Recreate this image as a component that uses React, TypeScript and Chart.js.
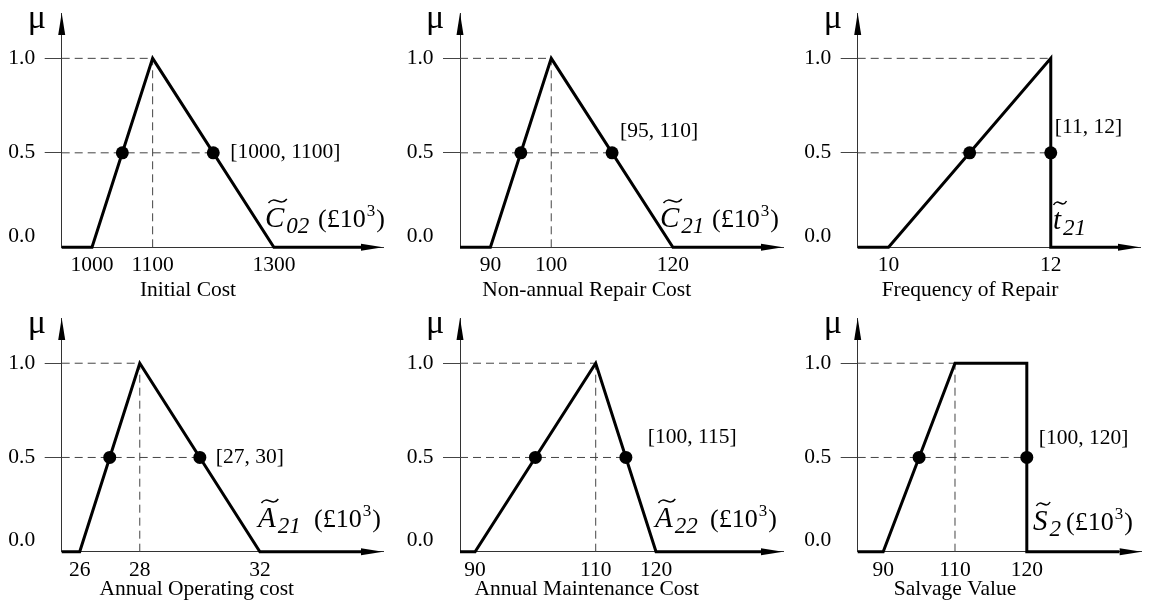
import React, { useEffect, useRef } from 'react';
import { Chart, registerables, LinearScale } from 'chart.js';

Chart.register(...registerables);

// Piecewise-linear axis: listed knot values are equally spaced on screen
class KnotScale extends LinearScale {
  static id = 'knot';
  static defaults = {};
  _u(v: number) {
    const k: number[] = (this.options as any).knots || [this.min, this.max];
    const n = k.length;
    if (v <= k[0]) return (v - k[0]) / (k[1] - k[0]);
    for (let i = 0; i < n - 1; i++) {
      if (v <= k[i + 1]) return i + (v - k[i]) / (k[i + 1] - k[i]);
    }
    return n - 1 + (v - k[n - 1]) / (k[n - 1] - k[n - 2]);
  }
  getPixelForValue(v: number) {
    const a = this._u(this.min);
    const b = this._u(this.max);
    return this.left + ((this._u(v) - a) / (b - a)) * this.width;
  }
  getValueForPixel(p: number) {
    let lo = this.min, hi = this.max;
    for (let i = 0; i < 40; i++) {
      const mid = (lo + hi) / 2;
      if (this.getPixelForValue(mid) < p) lo = mid; else hi = mid;
    }
    return (lo + hi) / 2;
  }
}
Chart.register(KnotScale as any);

// ---------- data ----------
const muTicks = [0, 0.5, 1.0];
const muMax = 1.24;
const cutLevel = 0.5;

// Initial Cost  C~02
const initialCostX = [950, 1000, 1100, 1300, 1444];
const initialCostMu = [0, 0, 1, 0, 0];
const initialCostCut = [1050, 1200];
const initialCostTicks = [1000, 1100, 1300];
const initialCostRange = [950, 1480];
const initialCostVGuide = [1100];

// Non-annual Repair Cost  C~21
const repairCostX = [85, 90, 100, 120, 134.5];
const repairCostMu = [0, 0, 1, 0, 0];
const repairCostCut = [95, 110];
const repairCostTicks = [90, 100, 120];
const repairCostRange = [85, 138.1];
const repairCostVGuide = [100];

// Frequency of Repair  t~21
const repairFreqX = [9.62, 10, 12, 12, 12.83];
const repairFreqMu = [0, 0, 1, 0, 0];
const repairFreqCut = [11, 12];
const repairFreqTicks = [10, 12];
const repairFreqRange = [9.62, 13.1];
const repairFreqVGuide: number[] = [];

// Annual Operating cost  A~21
const operatingX = [25.4, 26, 28, 32, 35.37];
const operatingMu = [0, 0, 1, 0, 0];
const operatingCut = [27, 30];
const operatingTicks = [26, 28, 32];
const operatingRange = [25.4, 36.1];
const operatingVGuide = [28];

// Annual Maintenance Cost  A~22
const maintenanceX = [87.5, 90, 110, 120, 137.4];
const maintenanceMu = [0, 0, 1, 0, 0];
const maintenanceCut = [100, 115];
const maintenanceTicks = [90, 110, 120];
const maintenanceRange = [87.5, 141.05];
const maintenanceVGuide = [110];

// Salvage Value  S~2
const salvageX = [82.9, 90, 110, 120, 120, 132.9];
const salvageMu = [0, 0, 1, 1, 0, 0];
const salvageCut = [100, 120];
const salvageTicks = [90, 110, 120];
const salvageRange = [82.9, 136];
const salvageVGuide = [110];

// ---------- layout (page pixels) ----------
const SERIF = '"Liberation Serif", "Times New Roman", serif';
const YW = 58;
const XH = 50;
const FS = 21.5;

const PANELS: any[] = [
  {
    x: initialCostX, mu: initialCostMu, cut: initialCostCut, ticks: initialCostTicks, range: initialCostRange, vg: initialCostVGuide,
    title: 'Initial Cost', note: '[1000, 1100]',
    name: { main: 'C', sub: '02', unit: true },
    canvas: { l: 0, t: 0, w: 392, h: 305 }, area: { left: 61.7, right: 383, top: 13, bottom: 247.3 },
    noteOff: [17, 0], titlePos: [188, 290], namePos: [265, 227, 318],
  },
  {
    x: repairCostX, mu: repairCostMu, cut: repairCostCut, ticks: repairCostTicks, range: repairCostRange, vg: repairCostVGuide,
    title: 'Non-annual Repair Cost', note: '[95, 110]',
    name: { main: 'C', sub: '21', unit: true },
    canvas: { l: 392, t: 0, w: 403, h: 305 }, area: { left: 460, right: 783, top: 13, bottom: 247.3 },
    noteOff: [8, -21.5], titlePos: [586.7, 290], namePos: [660, 227, 712],
  },
  {
    x: repairFreqX, mu: repairFreqMu, cut: repairFreqCut, ticks: repairFreqTicks, range: repairFreqRange, vg: repairFreqVGuide,
    title: 'Frequency of Repair', note: '[11, 12]',
    name: { main: 't', sub: '21', unit: false },
    canvas: { l: 795, t: 0, w: 364, h: 305 }, area: { left: 857.7, right: 1140, top: 13, bottom: 247.3 },
    noteOff: [4, -25], titlePos: [970, 290], namePos: [1053, 229, 0],
  },
  {
    x: operatingX, mu: operatingMu, cut: operatingCut, ticks: operatingTicks, range: operatingRange, vg: operatingVGuide,
    title: 'Annual Operating cost', note: '[27, 30]',
    name: { main: 'A', sub: '21', unit: true },
    canvas: { l: 0, t: 305, w: 392, h: 305 }, area: { left: 61.7, right: 383, top: 318, bottom: 551.7 },
    noteOff: [16, 0], titlePos: [196.7, 589], namePos: [258, 527, 314],
  },
  {
    x: maintenanceX, mu: maintenanceMu, cut: maintenanceCut, ticks: maintenanceTicks, range: maintenanceRange, vg: maintenanceVGuide,
    title: 'Annual Maintenance Cost', note: '[100, 115]',
    name: { main: 'A', sub: '22', unit: true },
    canvas: { l: 392, t: 305, w: 403, h: 305 }, area: { left: 460, right: 783, top: 318, bottom: 551.7 },
    noteOff: [22, -20], titlePos: [586.7, 589], namePos: [655, 527, 710],
  },
  {
    x: salvageX, mu: salvageMu, cut: salvageCut, ticks: salvageTicks, range: salvageRange, vg: salvageVGuide,
    knots: [90, 110, 120],
    title: 'Salvage Value', note: '[100, 120]',
    name: { main: 'S', sub: '2', unit: true },
    canvas: { l: 795, t: 305, w: 364, h: 305 }, area: { left: 857.7, right: 1141.7, top: 318, bottom: 551.7 },
    noteOff: [12, -19.5], titlePos: [955, 589], namePos: [1033, 530, 1066],
  },
];

function drawTilde(ctx: CanvasRenderingContext2D, cx: number, cy: number, w: number) {
  ctx.save();
  ctx.beginPath();
  ctx.moveTo(cx - w / 2, cy + 2);
  ctx.bezierCurveTo(cx - w / 6, cy - 6, cx + w / 6, cy + 6, cx + w / 2, cy - 2);
  ctx.lineWidth = 1.5;
  ctx.strokeStyle = '#000';
  ctx.stroke();
  ctx.restore();
}

function makeDecor(p: any) {
  return {
    id: 'decor',
    afterDraw(chart: any) {
      const ctx: CanvasRenderingContext2D = chart.ctx;
      const a = chart.chartArea;
      const ox = p.canvas.l, oy = p.canvas.t;
      const xs = chart.scales.x, ys = chart.scales.y;
      ctx.save();
      ctx.fillStyle = '#000';
      // arrows
      const AL = 22, AW = 3.5;
      ctx.beginPath();
      ctx.moveTo(a.right, a.bottom);
      ctx.lineTo(a.right - AL, a.bottom - AW);
      ctx.lineTo(a.right - AL, a.bottom + AW);
      ctx.closePath();
      ctx.fill();
      ctx.beginPath();
      ctx.moveTo(a.left, a.top);
      ctx.lineTo(a.left - AW, a.top + AL);
      ctx.lineTo(a.left + AW, a.top + AL);
      ctx.closePath();
      ctx.fill();
      // mu
      ctx.font = `34px ${SERIF}`;
      ctx.textAlign = 'left';
      ctx.textBaseline = 'alphabetic';
      ctx.fillText('\u03BC', a.left - 34, a.top + 15);
      // note
      ctx.font = `${FS}px ${SERIF}`;
      ctx.textBaseline = 'middle';
      ctx.fillText(p.note, xs.getPixelForValue(p.cut[1]) + p.noteOff[0], ys.getPixelForValue(cutLevel) + p.noteOff[1]);
      // title
      ctx.textAlign = 'center';
      ctx.fillText(p.title, p.titlePos[0] - ox, p.titlePos[1] - oy);
      // name
      ctx.textAlign = 'left';
      ctx.textBaseline = 'alphabetic';
      const nx = p.namePos[0] - ox, ny = p.namePos[1] - oy;
      ctx.font = `italic 29px ${SERIF}`;
      ctx.fillText(p.name.main, nx, ny);
      const mw = ctx.measureText(p.name.main).width;
      drawTilde(ctx, nx + mw / 2 + 3, ny - 26, Math.max(mw * 0.95, 13));
      ctx.font = `italic 23px ${SERIF}`;
      ctx.fillText(p.name.sub, nx + mw + 2, ny + 6);
      if (p.name.unit) {
        const ux = p.namePos[2] - ox;
        ctx.font = `26px ${SERIF}`;
        ctx.fillText('(\u00A310', ux, ny);
        const uw = ctx.measureText('(\u00A310').width;
        ctx.font = `17px ${SERIF}`;
        ctx.fillText('3', ux + uw + 1, ny - 11);
        const sw = ctx.measureText('3').width;
        ctx.font = `26px ${SERIF}`;
        ctx.fillText(')', ux + uw + sw + 2, ny);
      }
      ctx.restore();
    },
  };
}

function buildConfig(p: any) {
  const ds: any[] = [];
  ds.push({
    label: 'alpha-cut', data: p.cut.map((x: number) => ({ x, y: cutLevel })), showLine: false,
    pointRadius: 6.5, pointBackgroundColor: '#000', pointBorderWidth: 0, clip: false, order: 0,
  });
  ds.push({
    label: 'membership', data: p.x.map((x: number, i: number) => ({ x, y: p.mu[i] })), showLine: true,
    borderColor: '#000', borderWidth: 3, pointRadius: 0, borderJoinStyle: 'miter', clip: false, order: 1,
  });
  const peak = p.x[p.mu.indexOf(1)];
  const guides: any[] = [
    [{ x: p.range[0], y: 1 }, { x: peak, y: 1 }],
    [{ x: p.range[0], y: cutLevel }, { x: p.cut[1], y: cutLevel }],
    ...p.vg.map((v: number) => [{ x: v, y: 0 }, { x: v, y: 1 }]),
  ];
  guides.forEach((g) =>
    ds.push({ label: 'guide', data: g, showLine: true, borderColor: '#444', borderWidth: 1, borderDash: [8, 5], pointRadius: 0, clip: false, order: 2 })
  );
  const c = p.canvas, ar = p.area;
  const zeroPad = (s: any) => { s.paddingLeft = 0; s.paddingRight = 0; s.paddingTop = 0; s.paddingBottom = 0; };
  const font = { family: SERIF, size: FS, lineHeight: 1.05 };
  return {
    type: 'scatter',
    data: { datasets: ds },
    plugins: [makeDecor(p)],
    options: {
      responsive: false,
      animation: false,
      devicePixelRatio: 1,
      events: [],
      layout: {
        padding: {
          left: ar.left - c.l - YW,
          top: ar.top - c.t,
          right: c.l + c.w - ar.right,
          bottom: c.t + c.h - ar.bottom - XH,
        },
      },
      plugins: { legend: { display: false }, tooltip: { enabled: false } },
      scales: {
        x: {
          type: p.knots ? 'knot' : 'linear',
          knots: p.knots,
          min: p.range[0],
          max: p.range[1],
          afterBuildTicks: (s: any) => { s.ticks = p.ticks.map((v: number) => ({ value: v })); },
          afterFit: (s: any) => { s.height = XH; zeroPad(s); },
          ticks: { autoSkip: false, maxRotation: 0, minRotation: 0, padding: 7, color: '#000', font, callback: (v: any) => String(v) },
          grid: { display: false, drawTicks: false },
          border: { display: true, color: '#333', width: 1 },
        },
        y: {
          type: 'linear',
          min: 0,
          max: muMax,
          afterBuildTicks: (s: any) => { s.ticks = muTicks.map((v) => ({ value: v })); },
          afterFit: (s: any) => { s.width = YW; zeroPad(s); },
          ticks: { padding: 9.5, color: '#000', font, callback: (v: any) => (Number(v) === 0 ? ['0.0', ''] : Number(v).toFixed(1)) },
          grid: {
            display: true, drawOnChartArea: false, drawTicks: true, tickLength: 17, lineWidth: 1,
            color: (ctx: any) => (ctx.tick && ctx.tick.value === 0 ? 'rgba(0,0,0,0)' : '#444'),
          },
          border: { display: true, color: '#333', width: 1 },
        },
      },
    },
  };
}

export default function App() {
  const refs = useRef<(HTMLCanvasElement | null)[]>([]);
  useEffect(() => {
    const charts = PANELS.map((p, i) => new Chart(refs.current[i] as HTMLCanvasElement, buildConfig(p) as any));
    return () => charts.forEach((ch) => ch.destroy());
  }, []);
  return (
    <div style={{ position: 'fixed', left: 0, top: 0, width: 1159, height: 610, background: '#fff', overflow: 'hidden' }}>
      {PANELS.map((p, i) => (
        <canvas
          key={i}
          ref={(el) => { refs.current[i] = el; }}
          width={p.canvas.w}
          height={p.canvas.h}
          style={{ position: 'absolute', left: p.canvas.l, top: p.canvas.t, width: p.canvas.w, height: p.canvas.h }}
        />
      ))}
    </div>
  );
}
